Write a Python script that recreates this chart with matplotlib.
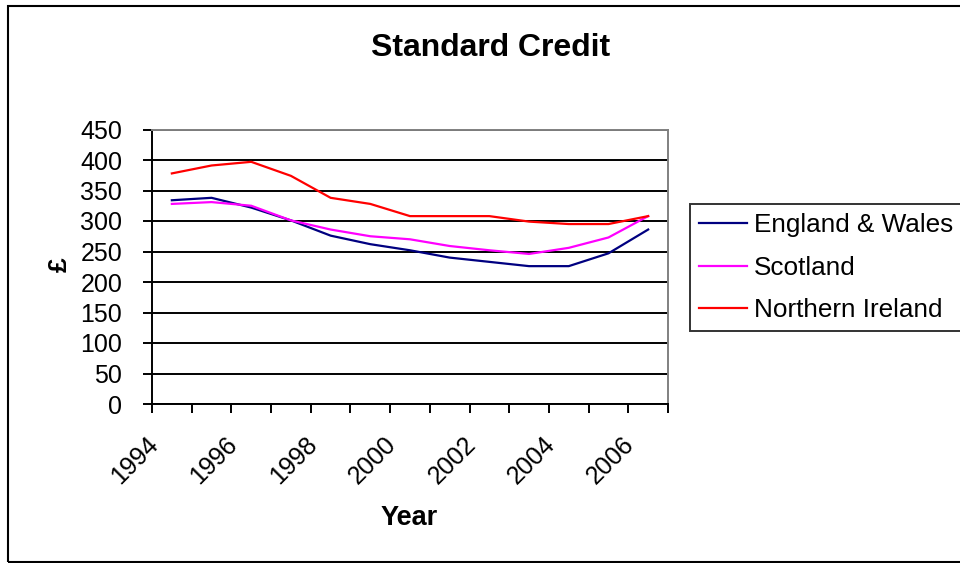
import numpy as np
import matplotlib
matplotlib.use('Agg')
import matplotlib.pyplot as plt
import matplotlib.transforms as mtransforms
from matplotlib.patches import Rectangle

# данные
years = ['1994', '1995', '1996', '1997', '1998', '1999', '2000',
         '2001', '2002', '2003', '2004', '2005', '2006']
england_wales = [334, 338, 322, 301, 276, 262, 252, 240, 233, 226, 226, 247, 286]
scotland = [328, 331, 325, 301, 286, 275, 270, 259, 252, 246, 256, 273, 308]
northern_ireland = [378, 391, 397, 374, 338, 328, 308, 308, 308, 299, 295, 295, 308]

series_names = ['England & Wales', 'Scotland', 'Northern Ireland']
series_colors = ['#000080', '#FF00FF', '#FF0000']

plt.rcParams['font.family'] = ['Liberation Sans', 'DejaVu Sans']

W, H = 960, 563
fig = plt.figure(figsize=(W / 100, H / 100), dpi=100)

ax = fig.add_axes([152 / W, 1 - 404 / H, (668 - 152) / W, (404 - 129.5) / H])

x = np.arange(len(years))
for vals, name, col in zip([england_wales, scotland, northern_ireland],
                           series_names, series_colors):
    ax.plot(x, vals, color=col, lw=1.6, label=name, zorder=3)

ax.set_ylim(0, 450)
ax.set_yticks(np.arange(0, 451, 50))
ax.yaxis.grid(True, color='black', lw=1.4)

# границы категорий - деления без подписей
ax.set_xticks(np.arange(-0.5, len(years), 1))
ax.set_xticklabels([])
ax.set_xlim(-0.5, len(years) - 0.5)
ax.tick_params(axis='x', direction='out', length=6.5, width=1.4)
ax.tick_params(axis='y', direction='out', length=6.5, width=1.4, pad=15,
               labelsize=18)

# подписи лет через одну, повернуты и сдвинуты левее центра категории, как в Excel
off = mtransforms.ScaledTranslation(-26 / 100, -28.5 / 100, fig.dpi_scale_trans)
for i in x[::2]:
    ax.text(i, 0, years[i], transform=ax.get_xaxis_transform() + off,
            rotation=45, ha='right', va='top', rotation_mode='anchor',
            fontsize=18)

ax.spines['left'].set_color('black')
ax.spines['bottom'].set_color('black')
ax.spines['left'].set_linewidth(1.4)
ax.spines['bottom'].set_linewidth(1.4)
ax.spines['top'].set_color('#808080')
ax.spines['right'].set_color('#808080')
ax.spines['top'].set_linewidth(1.4)
ax.spines['right'].set_linewidth(1.4)

fig.text(490.5 / W, 1 - 48.5 / H, 'Standard Credit', ha='center', va='center',
         fontsize=23, fontweight='bold')
fig.text(409 / W, 1 - 518 / H, 'Year', ha='center', va='center',
         fontsize=19.5, fontweight='bold')
fig.text(60 / W, 1 - 265 / H, '£', ha='center', va='center', rotation=90,
         fontsize=19, fontweight='bold')

leg = ax.legend(loc='upper left', bbox_to_anchor=(690 / W, 1 - 204 / H),
                bbox_transform=fig.transFigure, fontsize=18.8, frameon=True,
                fancybox=False, borderpad=0.36, handlelength=1.84,
                handletextpad=0.25, labelspacing=0.7, borderaxespad=0)
leg.get_frame().set_edgecolor('black')
leg.get_frame().set_linewidth(1.4)
for line in leg.get_lines():
    line.set_linewidth(1.6)

# рамка вокруг всей диаграммы
fig.patches.append(Rectangle((8 / W, 1 - 561.5 / H), 1.1, (561.5 - 6) / H,
                             transform=fig.transFigure, fill=False,
                             edgecolor='black', lw=1.5))

fig.savefig('out.png', dpi=100, facecolor='white')
